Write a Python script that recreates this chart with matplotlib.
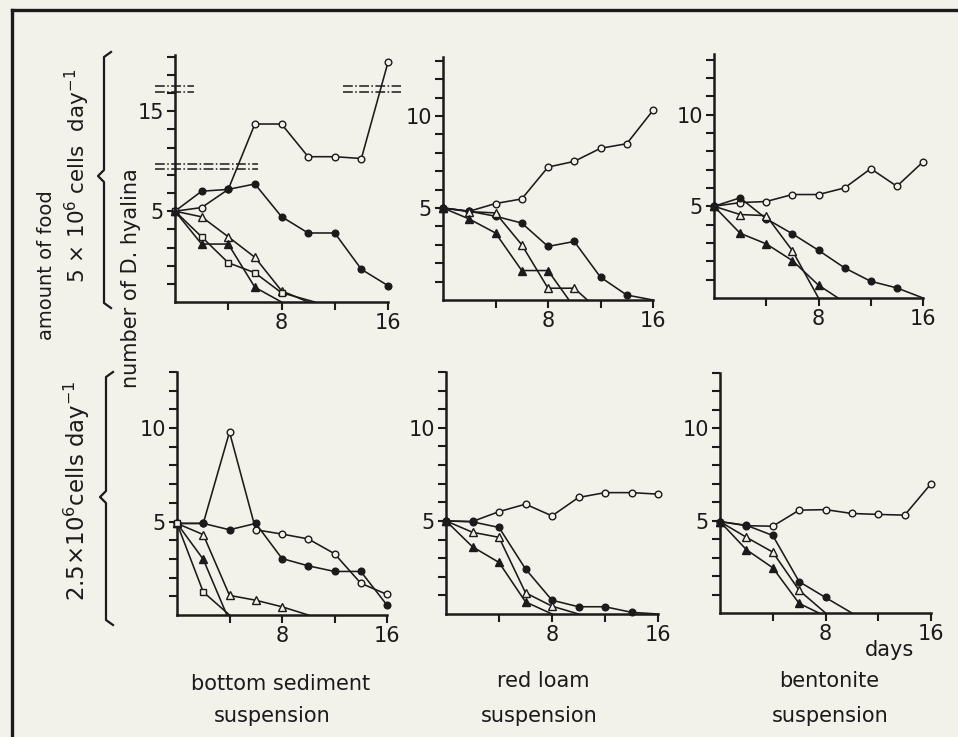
import numpy as np
import matplotlib
matplotlib.use('Agg')
import matplotlib.pyplot as plt
from matplotlib.lines import Line2D

plt.rcParams['font.family'] = ['DejaVu Sans']
plt.rcParams['mathtext.fontset'] = 'dejavusans'

W, H = 958, 737
BG = '#f2f1ea'
INK = '#1c1a1a'

days = [0, 2, 4, 6, 8, 10, 12, 14, 16]

# --- 5x10^6 cells/day ---
# bottom sediment
bs5_oc = [5.0, 5.2, 6.2, 14.3, 14.3, 12.5, 12.5, 12.4, 17.7]
bs5_fc = [5.0, 6.1, 6.2, 6.5, 4.7, 3.8, 3.8, 1.8, 0.9]
bs5_ot_d = [0, 2, 4, 6, 8, 10]
bs5_ot = [5.0, 4.69, 3.59, 2.46, 0.62, 0]
bs5_os_d = [0, 2, 4, 6, 8, 10.5]
bs5_os = [5.0, 3.59, 2.16, 1.61, 0.51, 0]
bs5_ft_d = [0, 2, 4, 6, 8]
bs5_ft = [5.0, 3.19, 3.19, 0.81, 0]
# red loam
rl5_oc = [5.0, 4.82, 5.24, 5.49, 7.22, 7.53, 8.24, 8.49, 10.3]
rl5_fc = [5.0, 4.82, 4.55, 4.18, 2.91, 3.18, 1.24, 0.27, 0]
rl5_ot_d = [0, 2, 4, 6, 8, 10, 11]
rl5_ot = [5.0, 4.8, 4.73, 3.0, 0.64, 0.64, 0]
rl5_ft_d = [0, 2, 4, 6, 8, 9.6]
rl5_ft = [5.0, 4.4, 3.64, 1.6, 1.6, 0]
# bentonite
bt5_oc = [5.0, 5.2, 5.26, 5.64, 5.64, 6.0, 7.05, 6.09, 7.42]
bt5_fc = [5.0, 5.46, 4.32, 3.5, 2.6, 1.64, 0.91, 0.55, 0]
bt5_ot_d = [0, 2, 4, 6, 8]
bt5_ot = [5.0, 4.55, 4.49, 2.58, 0]
bt5_ft_d = [0, 2, 4, 6, 8, 9.5]
bt5_ft = [5.0, 3.53, 2.95, 2.04, 0.7, 0]

# --- 2.5x10^6 cells/day ---
bs25_oc = [4.9, 4.9, 9.79, 4.56, 4.33, 4.07, 3.28, 1.7, 1.1]
bs25_fc = [4.9, 4.9, 4.56, 4.9, 3.02, 2.63, 2.33, 2.33, 0.53]
bs25_ot_d = [0, 2, 4, 6, 8, 10]
bs25_ot = [4.9, 4.3, 1.05, 0.79, 0.44, 0]
bs25_ft_d = [0, 2, 3.8]
bs25_ft = [4.9, 2.98, 0]
bs25_os_d = [0, 2, 4]
bs25_os = [4.9, 1.23, 0]

rl25_oc = [5.0, 4.97, 5.5, 5.9, 5.27, 6.26, 6.52, 6.52, 6.44]
rl25_fc = [5.0, 4.95, 4.65, 2.42, 0.74, 0.39, 0.39, 0.09, 0]
rl25_ot_d = [0, 2, 4, 6, 8, 10]
rl25_ot = [5.0, 4.39, 4.12, 1.14, 0.42, 0]
rl25_ft_d = [0, 2, 4, 6, 8]
rl25_ft = [5.0, 3.61, 2.77, 0.65, 0]

bt25_oc = [4.95, 4.73, 4.7, 5.57, 5.6, 5.39, 5.34, 5.3, 7.0]
bt25_fc_d = [0, 2, 4, 6, 8, 10]
bt25_fc = [4.95, 4.75, 4.2, 1.7, 0.84, 0]
bt25_ot_d = [0, 2, 4, 6, 8]
bt25_ot = [4.95, 4.1, 3.3, 1.23, 0]
bt25_ft_d = [0, 2, 4, 6, 7.5]
bt25_ft = [4.95, 3.43, 2.45, 0.52, 0]

# broken axis of the first panel (value -> drawn position)
brk_x = [-10, 7.4, 12.0, 40]
brk_y = [-10, 7.4, 7.5, 35.5]


def fwd(v):
    return np.interp(v, brk_x, brk_y)


def inv(v):
    return np.interp(v, brk_y, brk_x)


def rect(x0, x16, y0, ytop):
    return [x0 / W, (H - y0) / H, (x16 - x0) / W, (y0 - ytop) / H]


def series(ax, x, y, marker, filled, ms=5.0):
    x = np.asarray(x, float)
    y = np.asarray(y, float)
    ax.plot(x, y, color=INK, lw=1.15, zorder=2, clip_on=False)
    m = y > 0
    ax.plot(x[m], y[m], ls='none', marker=marker, ms=ms, mew=1.0,
            mec=INK, mfc=INK if filled else BG, zorder=3, clip_on=False)


fig = plt.figure(figsize=(W / 100, H / 100), dpi=100)
fig.patch.set_facecolor(BG)

panels = [
    (rect(175, 388, 302, 55), 18.1, True,
     [(days, bs5_oc, 'o', False), (days, bs5_fc, 'o', True),
      (bs5_ot_d, bs5_ot, '^', False), (bs5_os_d, bs5_os, 's', False),
      (bs5_ft_d, bs5_ft, '^', True)]),
    (rect(443, 653, 300, 57), 13.2, False,
     [(days, rl5_oc, 'o', False), (days, rl5_fc, 'o', True),
      (rl5_ot_d, rl5_ot, '^', False), (rl5_ft_d, rl5_ft, '^', True)]),
    (rect(714, 923, 298, 54), 13.3, False,
     [(days, bt5_oc, 'o', False), (days, bt5_fc, 'o', True),
      (bt5_ot_d, bt5_ot, '^', False), (bt5_ft_d, bt5_ft, '^', True)]),
    (rect(177, 387, 615, 372), 13.0, False,
     [(days, bs25_oc, 'o', False), (days, bs25_fc, 'o', True),
      (bs25_ot_d, bs25_ot, '^', False), (bs25_ft_d, bs25_ft, '^', True),
      (bs25_os_d, bs25_os, 's', False)]),
    (rect(446, 658, 614, 372), 13.0, False,
     [(days, rl25_oc, 'o', False), (days, rl25_fc, 'o', True),
      (rl25_ot_d, rl25_ot, '^', False), (rl25_ft_d, rl25_ft, '^', True)]),
    (rect(720, 931, 613, 373), 13.0, False,
     [(days, bt25_oc, 'o', False), (bt25_fc_d, bt25_fc, 'o', True),
      (bt25_ot_d, bt25_ot, '^', False), (bt25_ft_d, bt25_ft, '^', True)]),
]

for r, ytop, broken, lines in panels:
    ax = fig.add_axes(r)
    ax.set_facecolor('none')
    if broken:
        ax.set_yscale('function', functions=(fwd, inv))
        yt = [1, 2, 3, 4, 5, 6, 7, 13, 14, 15, 16, 17, 18]
        ylab = ['5' if v == 5 else '15' if v == 15 else '' for v in yt]
    else:
        yt = list(range(1, 14))
        ylab = [str(v) if v in (5, 10) else '' for v in yt]
    ax.set_xlim(0, 16)
    ax.set_ylim(0, ytop)
    for x, y, mk, fl in lines:
        series(ax, x, y, mk, fl, ms=5.3 if mk == '^' else 4.8)
    ax.set_yticks(yt)
    ax.set_yticklabels(ylab)
    ax.set_xticks([4, 8, 12, 16])
    ax.set_xticklabels(['', '8', '', '16'])
    for s in ('top', 'right'):
        ax.spines[s].set_visible(False)
    for s in ('left', 'bottom'):
        ax.spines[s].set_linewidth(1.8)
        ax.spines[s].set_color(INK)
    ax.tick_params(direction='out', length=6, width=1.5, color=INK,
                   labelsize=15, labelcolor=INK, pad=2)
    ax.minorticks_off()
    if broken:
        # break marks
        for yv in (7.3, 12.1):
            ax.plot([-1.5, 6.2], [yv, yv], color=INK, lw=1.1, ls='-.', clip_on=False)
        for yv in (16.05, 16.4):
            ax.plot([-1.5, 1.4], [yv, yv], color=INK, lw=1.1, ls='-.', clip_on=False)
            ax.plot([12.6, 17.0], [yv, yv], color=INK, lw=1.1, ls='-.', clip_on=False)


def ftxt(x, y, s, **kw):
    fig.text(x / W, 1 - y / H, s, color=INK, **kw)


ftxt(47, 265, 'amount of food', rotation=90, ha='center', va='center', fontsize=14)
ftxt(77, 176, r'5 $\times$ 10$^6$ cells  day$^{-1}$', rotation=90, ha='center', va='center', fontsize=15.5)
ftxt(77, 491, r'2.5$\times$10$^6$cells day$^{-1}$', rotation=90, ha='center', va='center', fontsize=16.5)
ftxt(131, 278, 'number of D. hyalina', rotation=90, ha='center', va='center', fontsize=15)

ftxt(281, 684, 'bottom sediment', ha='center', va='center', fontsize=15)
ftxt(272, 716, 'suspension', ha='center', va='center', fontsize=15)
ftxt(543, 681, 'red loam', ha='center', va='center', fontsize=15)
ftxt(539, 716, 'suspension', ha='center', va='center', fontsize=15)
ftxt(829, 681, 'bentonite', ha='center', va='center', fontsize=15)
ftxt(830, 716, 'suspension', ha='center', va='center', fontsize=15)
ftxt(889, 650, 'days', ha='center', va='center', fontsize=15)


def brace(x, y1, y2, ym):
    px = [x + 7, x, x, x - 6, x, x, x + 7]
    py = [y1, y1 + 5, ym - 6, ym, ym + 6, y2 - 5, y2]
    fig.add_artist(Line2D([p / W for p in px], [1 - p / H for p in py],
                          color=INK, lw=1.6, transform=fig.transFigure))


brace(104, 52, 308, 176)
brace(106, 372, 625, 497)

# frame of the original plate
fig.add_artist(Line2D([12 / W, 1.0], [1 - 10 / H, 1 - 10 / H], color=INK, lw=2.4,
                      transform=fig.transFigure))
fig.add_artist(Line2D([12 / W, 12 / W], [1 - 10 / H, 0.0], color=INK, lw=2.4,
                      transform=fig.transFigure))

fig.savefig('out.png', dpi=100, facecolor=BG)
